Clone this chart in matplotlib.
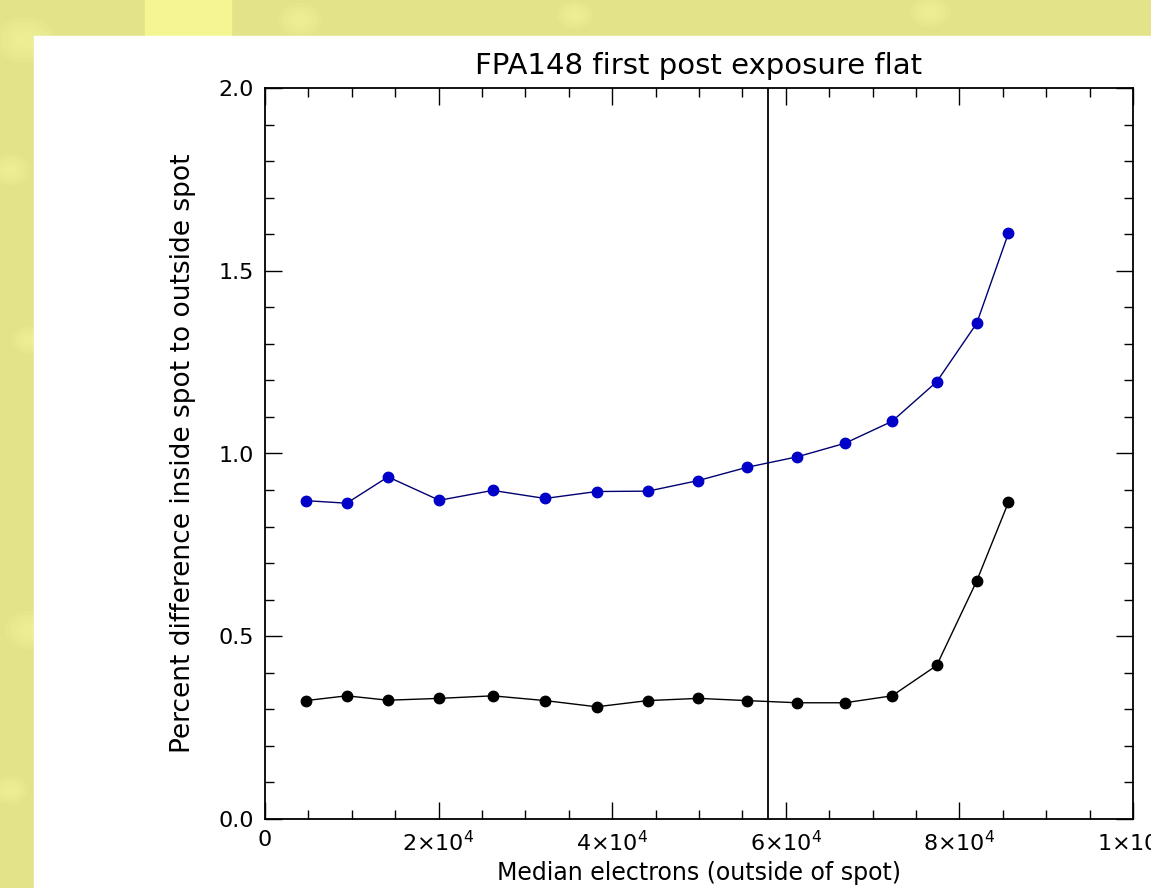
import matplotlib
matplotlib.use('Agg')
import matplotlib.pyplot as plt
from matplotlib.patches import Rectangle, Circle
from matplotlib.ticker import MultipleLocator

# median electrons outside the spot
electrons = [4720, 9410, 14170, 20080, 26230, 32260, 38210, 44120,
             49920, 55490, 61330, 66820, 72240, 77380, 81990, 85640]
# percent difference, blue curve (upper) and black curve (lower)
blue_pct = [0.871, 0.864, 0.936, 0.872, 0.899, 0.877, 0.896, 0.897,
            0.926, 0.962, 0.991, 1.028, 1.088, 1.196, 1.356, 1.602]
black_pct = [0.324, 0.337, 0.325, 0.330, 0.337, 0.324, 0.307, 0.324,
             0.330, 0.324, 0.318, 0.318, 0.337, 0.420, 0.651, 0.866]
vline_x = 58000

xticks = [0, 20000, 40000, 60000, 80000, 100000]
xticklabels = ['0', r'2$\times$10$^{4}$', r'4$\times$10$^{4}$',
               r'6$\times$10$^{4}$', r'8$\times$10$^{4}$', r'1$\times$10$^{5}$']
yticks = [0.0, 0.5, 1.0, 1.5, 2.0]
yticklabels = ['0.0', '0.5', '1.0', '1.5', '2.0']

plt.rcParams['font.family'] = ['DejaVu Sans']
plt.rcParams['mathtext.fontset'] = 'dejavusans'

W, H = 1151, 888
fig = plt.figure(figsize=(W / 100, H / 100), dpi=100)
fig.patch.set_facecolor('#e3e38a')

# slide background: light band, soft glows, white panel
fig.patches.append(Rectangle((145 / W, 1 - 36 / H), 86 / W, 36 / H,
                             transform=fig.transFigure, color='#f5f592', zorder=-3))
for cx, cy, r in [(25, 40, 30), (300, 20, 22), (575, 15, 18), (930, 12, 20),
                  (30, 340, 18), (30, 630, 25), (10, 790, 18), (10, 170, 20)]:
    for k in range(4):
        fig.patches.append(Circle((cx / W, 1 - cy / H), r * (1 - k * 0.22) / W,
                                  transform=fig.transFigure, color='#f8f8a0',
                                  alpha=0.18, zorder=-2, lw=0))
fig.patches.append(Rectangle((34 / W, 0), 1 - 34 / W, 1 - 36 / H,
                             transform=fig.transFigure, color='white', zorder=-1))

ax = fig.add_axes([265 / W, (H - 819) / H, 868 / W, 731 / H])
ax.set_facecolor('white')

ax.plot(electrons, blue_pct, color='#000070', lw=1.0, marker='o', ms=7.5,
        mfc='#0000c8', mec='#0000c8', zorder=3)
ax.plot(electrons, black_pct, color='black', lw=1.0, marker='o', ms=7.5,
        mfc='black', mec='black', zorder=3)
ax.axvline(vline_x, color='black', lw=1.3)

ax.set_xlim(0, 100000)
ax.set_ylim(0, 2.0)
ax.set_xticks(xticks)
ax.set_xticklabels(xticklabels)
ax.set_yticks(yticks)
ax.set_yticklabels(yticklabels)
ax.xaxis.set_minor_locator(MultipleLocator(5000))
ax.yaxis.set_minor_locator(MultipleLocator(0.1))
ax.tick_params(which='both', direction='in', top=True, right=True,
               labelsize=16, width=1.0, colors='black')
ax.tick_params(which='major', length=12.5, pad=8)
ax.tick_params(which='minor', length=6.5)
for s in ax.spines.values():
    s.set_linewidth(1.3)

ax.set_title('FPA148 first post exposure flat', fontsize=21, pad=10)
ax.set_xlabel('Median electrons (outside of spot)', fontsize=17, labelpad=4)
ax.set_ylabel('Percent difference inside spot to outside spot', fontsize=19, labelpad=16)

fig.savefig('out.png', dpi=100, facecolor=fig.get_facecolor())
